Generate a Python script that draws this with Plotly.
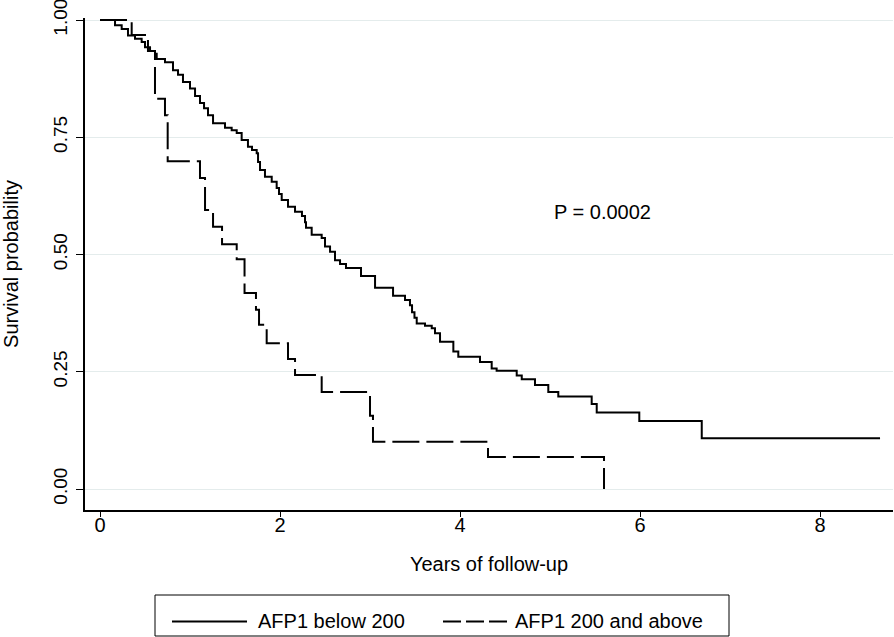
import plotly.graph_objects as go

# ---- data ----
low_time = [0.0, 0.167, 0.241, 0.311, 0.389, 0.463, 0.5, 0.556, 0.611, 0.630, 0.722, 0.811,
            0.867, 0.922, 1.0, 1.056, 1.111, 1.156, 1.2, 1.256, 1.389, 1.463, 1.519, 1.574,
            1.644, 1.689, 1.741, 1.756, 1.778, 1.833, 1.908, 1.963, 1.989, 2.019, 2.089,
            2.167, 2.244, 2.278, 2.289, 2.352, 2.463, 2.5, 2.556, 2.611, 2.667, 2.733, 2.9,
            3.056, 3.256, 3.389, 3.444, 3.467, 3.494, 3.519, 3.611, 3.686, 3.722, 3.778,
            3.926, 3.981, 4.222, 4.352, 4.407, 4.630, 4.686, 4.833, 4.981, 5.092, 5.463,
            5.519, 5.992, 6.686, 8.667]
low_surv = [1.0, 0.989, 0.981, 0.967, 0.960, 0.953, 0.942, 0.934, 0.928, 0.917, 0.910, 0.893,
            0.883, 0.868, 0.854, 0.838, 0.823, 0.812, 0.797, 0.780, 0.770, 0.765, 0.759, 0.744,
            0.730, 0.723, 0.716, 0.697, 0.680, 0.666, 0.655, 0.642, 0.629, 0.616, 0.602,
            0.591, 0.582, 0.569, 0.557, 0.542, 0.535, 0.517, 0.506, 0.488, 0.480, 0.471, 0.454,
            0.429, 0.412, 0.403, 0.392, 0.377, 0.365, 0.353, 0.348, 0.343, 0.332, 0.314,
            0.293, 0.282, 0.271, 0.257, 0.252, 0.242, 0.234, 0.222, 0.207, 0.197, 0.181,
            0.163, 0.145, 0.108, 0.108]

high_time = [0.0, 0.352, 0.533, 0.611, 0.722, 0.752, 1.111, 1.167, 1.256, 1.356, 1.519, 1.606,
             1.733, 1.767, 1.852, 2.089, 2.167, 2.463, 3.0, 3.033, 4.311, 5.6]
high_surv = [1.0, 0.968, 0.934, 0.832, 0.797, 0.699, 0.663, 0.595, 0.559, 0.522, 0.490, 0.418,
             0.382, 0.350, 0.311, 0.277, 0.243, 0.207, 0.156, 0.101, 0.068, 0.0]

series_names = ["AFP1 below 200", "AFP1 200 and above"]
y_ticks = [0, 0.25, 0.5, 0.75, 1.0]
y_tick_labels = ["0.00", "0.25", "0.50", "0.75", "1.00"]
x_ticks = [0, 2, 4, 6, 8]
p_text = "P = 0.0002"

FONT = "Liberation Sans, Arial, sans-serif"
W, H = 894, 637
L, R, T, B = 85, 1, 18, 127
PW, PH = W - L - R, H - T - B


def px(xp):
    return (xp - L) / PW


def py(yp):
    return (H - B - yp) / PH


fig = go.Figure()
fig.add_trace(go.Scatter(x=low_time, y=low_surv, mode="lines", line_shape="hv",
                         line=dict(color="black", width=2), name=series_names[0],
                         showlegend=False))
fig.add_trace(go.Scatter(x=high_time, y=high_surv, mode="lines", line_shape="hv",
                         line=dict(color="black", width=2, dash="27px,7px"),
                         name=series_names[1], showlegend=False))

fig.add_annotation(x=5.58, y=0.59, text=p_text, showarrow=False,
                   font=dict(family=FONT, size=20, color="black"))

# custom legend box (Stata style)
shapes = [
    dict(type="rect", xref="paper", yref="paper", x0=px(155), x1=px(729),
         y0=py(636), y1=py(595), line=dict(color="black", width=1), fillcolor="white"),
    dict(type="line", xref="paper", yref="paper", x0=px(172), x1=px(247),
         y0=py(621.5), y1=py(621.5), line=dict(color="black", width=2)),
    dict(type="line", xref="paper", yref="paper", x0=px(443), x1=px(508),
         y0=py(621.5), y1=py(621.5), line=dict(color="black", width=2, dash="18px,5px")),
]
fig.add_annotation(xref="paper", yref="paper", x=px(256), y=py(621), xanchor="left",
                   yanchor="middle", text=series_names[0], showarrow=False,
                   font=dict(family=FONT, size=20, color="black"))
fig.add_annotation(xref="paper", yref="paper", x=px(513), y=py(621), xanchor="left",
                   yanchor="middle", text=series_names[1], showarrow=False,
                   font=dict(family=FONT, size=20, color="black"))

fig.update_layout(
    width=W, height=H,
    margin=dict(l=L, r=R, t=T, b=B, autoexpand=False),
    paper_bgcolor="white", plot_bgcolor="white",
    font=dict(family=FONT, size=20, color="black"),
    shapes=shapes,
    showlegend=False,
    xaxis=dict(range=[-0.1667, 8.811], tickvals=x_ticks, ticks="outside", ticklen=5,
               tickcolor="black", showline=True, linecolor="black", linewidth=1.5,
               showgrid=False, zeroline=False, ticklabelstandoff=-9,
               ticklabeloverflow="allow",
               title=dict(text="Years of follow-up", standoff=22,
                          font=dict(family=FONT, size=20)),
               tickfont=dict(family=FONT, size=20)),
    yaxis=dict(range=[-0.04478, 1.00426], tickvals=y_ticks, ticktext=y_tick_labels,
               ticks="outside", ticklen=7, tickcolor="black", tickangle=-90,
               showline=True, linecolor="black", linewidth=1.5,
               showgrid=True, gridcolor="#e4ecec", gridwidth=1, zeroline=False,
               ticklabelstandoff=2, ticklabeloverflow="allow",
               title=dict(text="Survival probability", standoff=28,
                          font=dict(family=FONT, size=20)),
               tickfont=dict(family=FONT, size=19)),
)

fig.write_html("out.html", config={"displayModeBar": False},
               post_script="document.body.style.margin='0';")
